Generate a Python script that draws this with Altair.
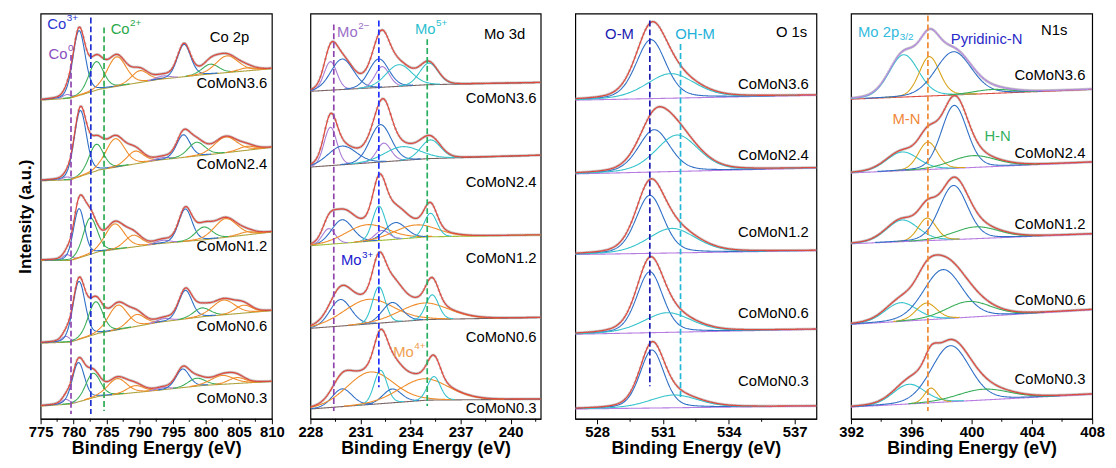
import numpy as np
import pandas as pd
import altair as alt

# ------------------------------------------------------------------ data
SAMPLES = ["CoMoN3.6", "CoMoN2.4", "CoMoN1.2", "CoMoN0.6", "CoMoN0.3"]

# Co 2p : background knots and fitted peak parameters (centre eV, height a.u., FWHM eV)
CO_BG_X = [775, 779.5, 783.8, 792.7, 799.7, 810]
CO_BG_Y = [[324, 326, 335, 345, 350, 356],
           [242, 243, 253, 263, 268, 276],
           [161, 161, 170, 178, 182, 190],
           [77, 78, 87, 98, 104, 110],
           [13, 15, 23, 29, 34, 38]]
CO_COMPONENTS = ["purple", "blue", "green", "orange", "orange", "purple", "blue", "green", "orange", "orange"]
CO_CENTER = [[779.0, 780.8, 783.4, 786.5, 790.0, 793.5, 796.7, 800.7, 803.2, 806.2],
             [779.0, 781.0, 783.4, 786.3, 789.3, 793.5, 796.6, 798.6, 803.0, 806.2],
             [779.0, 780.8, 782.5, 786.2, 789.0, 793.5, 796.9, 799.7, 803.0, 806.2],
             [778.8, 780.8, 783.3, 786.7, 789.5, 793.7, 796.9, 799.4, 802.7, 805.7],
             [778.8, 780.7, 782.9, 786.6, 789.3, 793.5, 796.5, 798.6, 802.5, 804.7]]
CO_HEIGHT = [[4, 66, 29, 30, 12, 3, 33, 10, 17, 3],
             [3, 67, 27, 29, 13, 2, 23, 14, 16, 4],
             [6, 50, 37, 26, 12, 3, 33, 13, 19, 3],
             [6, 59, 33, 25, 12, 3, 29, 9, 15, 8],
             [5, 40, 25, 16, 7, 2, 19, 8, 9, 6]]
CO_FWHM = [[1.5, 2.2, 2.6, 3.4, 3.0, 2.5, 2.4, 3.0, 4.0, 3.0],
           [1.5, 2.2, 2.6, 3.4, 3.0, 2.5, 2.4, 3.0, 4.0, 3.0],
           [1.5, 2.0, 2.5, 3.4, 3.0, 2.5, 2.4, 3.0, 4.0, 3.0],
           [1.5, 2.2, 2.6, 3.4, 3.0, 2.5, 2.4, 3.0, 4.0, 3.0],
           [1.5, 2.2, 2.6, 3.4, 3.0, 2.5, 2.4, 3.0, 4.0, 3.0]]

# Mo 3d
MO_BG_X = [228, 235, 241.8]
MO_BG_Y = [[333, 339.7, 342],
           [256, 264.5, 268],
           [176, 185, 187],
           [92, 101, 103],
           [10, 19, 20]]
MO_COMPONENTS = ["purple", "blue", "orange", "cyan", "purple", "blue", "cyan", "orange", "cyan"]
MO_CENTER = [[229.2, 229.9, 231.5, 232.1, 232.3, 232.1, 233.3, 234.8, 235.1],
             [229.2, 229.9, 231.5, 232.1, 232.4, 232.2, 233.5, 234.8, 235.2],
             [229.1, 229.9, 231.4, 232.1, 232.3, 233.1, 233.5, 234.3, 235.2],
             [229.2, 229.8, 231.5, 232.1, 232.3, 232.9, 233.5, 234.8, 235.3],
             [229.2, 229.9, 231.6, 232.2, 232.3, 232.9, 233.5, 234.8, 235.4]]
MO_HEIGHT = [[29, 31, 0, 0, 21, 29, 22, 0, 22],
             [39, 19, 0, 0, 19, 38, 14, 0, 19],
             [16, 24, 17, 35, 10, 17, 0, 13, 24],
             [0, 27, 25, 37, 0, 20, 0, 17, 25],
             [0, 18, 33, 34, 0, 14, 0, 22, 24]]
MO_FWHM = [[0.9, 1.6, 3.0, 0.9, 1.0, 1.4, 1.8, 3.5, 1.3],
           [0.9, 2.0, 3.0, 0.9, 1.0, 1.5, 2.5, 3.5, 1.4],
           [0.9, 1.5, 3.0, 0.9, 1.0, 1.5, 2.0, 3.0, 0.9],
           [0.9, 1.5, 3.5, 0.9, 1.0, 1.4, 2.0, 3.5, 0.9],
           [0.9, 1.4, 3.3, 0.9, 1.0, 1.3, 2.0, 3.5, 0.9]]

# O 1s
O_BG_X = [527, 538]
O_BG_Y = [[324, 329], [249, 255], [167, 171], [86, 91], [10, 13]]
O_COMPONENTS = ["blue", "cyan"]
O_CENTER = [[530.45, 531.35], [530.6, 531.65], [530.4, 531.4], [530.4, 531.2], [530.5, 531.5]]
O_HEIGHT = [[60, 25], [43, 37], [59, 25], [62, 20], [59, 13]]
O_FWHM = [[1.6, 2.6], [1.7, 2.3], [1.5, 2.6], [1.4, 2.6], [1.3, 2.6]]

# N 1s
N_BG_X = [392, 408]
N_BG_Y = [[325, 335], [250, 261], [178, 188], [96, 111], [12, 25]]
N_COMPONENTS = ["cyan", "gold", "blue", "green"]
N_CENTER = [[395.5, 397.2, 398.8, 401.4],
            [395.4, 397.1, 398.85, 400.1],
            [395.4, 397.05, 398.8, 400.3],
            [395.3, 397.0, 398.1, 399.8],
            [395.85, 397.3, 398.6, 400.8]]
N_HEIGHT = [[43, 40, 44, 4], [19, 28, 64, 12], [22, 23, 55, 12], [19, 17, 50, 16], [20, 15, 57, 11]]
N_FWHM = [[2.3, 1.6, 2.8, 3.0], [2.5, 1.5, 2.0, 3.5], [2.5, 1.4, 2.2, 3.5], [2.5, 1.6, 3.0, 3.5], [2.5, 1.0, 3.0, 4.0]]

# ------------------------------------------------------------------ styles
PAL = {"blue": "#2f6fc6", "green": "#3aae5a", "orange": "#f08c2a", "purple": "#a97cd6",
       "cyan": "#35c3cc", "gold": "#d9a21b", "red": "#dc4b40", "olive": "#b0a23c",
       "grey": "#7a6464", "lilac": "#b58ae0", "bgpurple": "#b77be2", "lime": "#a2bf3a"}
FONT = "Liberation Sans"
H_PX = 410       # plot height in pixels
Y_TOP = 412      # intensity value at the top of each panel
CHAR_W = {"C": 0.722, "o": 0.556, "M": 0.833, " ": 0.278, "2": 0.556, "p": 0.556}


def text_w(s, size):
    return sum(CHAR_W.get(ch, 0.556) for ch in s) * size


def pv(x, c, h, w, eta):
    d = (x - c) / w
    return h * ((1 - eta) * np.exp(-4 * np.log(2) * d * d) + eta / (1 + 4 * d * d))


def build(dom, step, bg_x, bg_y, comps, centers, heights, fwhms, eta, env_cols, bg_cols):
    lines, env, dots = [], [], []
    x = np.round(np.arange(dom[0], dom[1] + step / 2, step), 3)
    for si, s in enumerate(SAMPLES):
        bg = np.interp(x, bg_x, bg_y[si])
        total = bg.copy()
        for xv, yv in zip(x, bg):
            lines.append({"x": xv, "y": round(yv, 2), "id": f"{s}-bg", "c": bg_cols[si]})
        for k, col in enumerate(comps):
            h = heights[si][k]
            if h <= 0:
                continue
            p = pv(x, centers[si][k], h, fwhms[si][k], eta)
            total = total + p
            m = p > 0.35
            for xv, yv in zip(x[m], (bg + p)[m]):
                lines.append({"x": xv, "y": round(yv, 2), "id": f"{s}-{k}", "c": PAL[col]})
        for xv, yv in zip(x, total):
            env.append({"x": xv, "y": round(yv, 2), "id": f"{s}-env", "c": env_cols[si]})
        for xv, yv in zip(x[::2], total[::2]):
            dots.append({"x": xv, "y": round(yv, 2)})
    return pd.DataFrame(lines), pd.DataFrame(env), pd.DataFrame(dots)


def panel(dom, width, majors, minors, frames, notes, sample_x, sample_y, dashes, first=False):
    lines, env, dots = frames
    ppe = width / (dom[1] - dom[0])
    xsc = alt.Scale(domain=dom, nice=False, zero=False)
    xax = alt.Axis(values=majors, format="d", title="Binding Energy (eV)", grid=False,
                   labelFontSize=15, labelFontWeight="bold", labelFont=FONT, labelColor="black",
                   titleFontSize=18, titleFontWeight="bold", titleFont=FONT, titleColor="black",
                   tickSize=5, tickColor="black", domainColor="black", labelPadding=1,
                   titlePadding=0, labelFlush=False, labelOverlap=False, labelBound=False)
    X = alt.X("x:Q", scale=xsc, axis=xax)
    ysc = alt.Scale(domain=[0, Y_TOP], nice=False, zero=False)
    if first:
        yax = alt.Axis(title="Intensity (a.u.)", labels=False, ticks=False, domain=False, grid=False,
                       titleFontSize=17, titleFontWeight="bold", titleFont=FONT, titleColor="black",
                       titlePadding=6)
        Y = alt.Y("y:Q", scale=ysc, axis=yax)
    else:
        Y = alt.Y("y:Q", scale=ysc, axis=None)

    l_dots = alt.Chart(dots).mark_point(filled=False, size=5, strokeWidth=0.6, color="#9a9a9a",
                                        opacity=0.85, clip=True).encode(x=X, y=Y)
    l_lines = alt.Chart(lines).mark_line(strokeWidth=1.1, clip=True).encode(
        x=X, y=Y, detail="id:N", color=alt.Color("c:N", scale=None))
    l_env = alt.Chart(env).mark_line(strokeWidth=1.3, clip=True).encode(
        x=X, y=Y, detail="id:N", color=alt.Color("c:N", scale=None))
    ddf = pd.DataFrame(dashes, columns=["x", "y", "y2", "c"])
    l_dash = alt.Chart(ddf).mark_rule(strokeDash=[6, 3], strokeWidth=1.7).encode(
        x=X, y=Y, y2="y2:Q", color=alt.Color("c:N", scale=None))

    base_rows, sup_rows, sub_rows = [], [], []
    for base, sup, kind, x, y, c in notes:
        base_rows.append({"t": base, "x": x, "y": y, "c": c})
        if sup:
            row = {"t": sup, "x": x + (text_w(base, 15) + 0.5) / ppe, "y": y, "c": c}
            (sup_rows if kind == "sup" else sub_rows).append(row)
    l_notes = alt.Chart(pd.DataFrame(base_rows)).mark_text(
        align="left", baseline="middle", fontSize=15, font=FONT).encode(
        x=X, y=Y, text="t:N", color=alt.Color("c:N", scale=None))
    sdf = pd.DataFrame({"t": SAMPLES, "x": [sample_x] * 5, "y": sample_y})
    l_samples = alt.Chart(sdf).mark_text(align="right", baseline="middle", fontSize=15, font=FONT,
                                         color="black").encode(x=X, y=Y, text="t:N")
    mdf = pd.DataFrame({"x": minors})
    l_minor = alt.Chart(mdf).mark_rule(color="black", strokeWidth=1).encode(
        x=X, y=alt.value(H_PX), y2=alt.value(H_PX + 3))
    layers = [l_dots, l_lines, l_env, l_dash, l_notes, l_samples, l_minor]
    if sup_rows:
        layers.append(alt.Chart(pd.DataFrame(sup_rows)).mark_text(
            align="left", baseline="middle", fontSize=10, font=FONT, dy=-6).encode(
            x=X, y=Y, text="t:N", color=alt.Color("c:N", scale=None)))
    if sub_rows:
        layers.append(alt.Chart(pd.DataFrame(sub_rows)).mark_text(
            align="left", baseline="middle", fontSize=10, font=FONT, dy=5).encode(
            x=X, y=Y, text="t:N", color=alt.Color("c:N", scale=None)))
    return alt.layer(*layers).properties(width=width, height=H_PX)


co = build((775, 810), 0.12, CO_BG_X, CO_BG_Y, CO_COMPONENTS, CO_CENTER, CO_HEIGHT, CO_FWHM, 0.2,
           [PAL["red"]] * 5, [PAL["olive"]] * 5)
mo = build((228, 241.8), 0.05, MO_BG_X, MO_BG_Y, MO_COMPONENTS, MO_CENTER, MO_HEIGHT, MO_FWHM, 0.1,
           [PAL["red"]] * 5, [PAL["grey"], PAL["grey"], PAL["lime"], PAL["grey"], PAL["grey"]])
ox = build((527, 538), 0.04, O_BG_X, O_BG_Y, O_COMPONENTS, O_CENTER, O_HEIGHT, O_FWHM, 0.3,
           [PAL["red"]] * 5, [PAL["bgpurple"]] * 5)
nn = build((392, 408), 0.05, N_BG_X, N_BG_Y, N_COMPONENTS, N_CENTER, N_HEIGHT, N_FWHM, 0.15,
           [PAL["lilac"]] + [PAL["red"]] * 4, [PAL["red"]] + [PAL["bgpurple"]] * 4)

p1 = panel((775, 810), 234, [775, 780, 785, 790, 795, 800, 805, 810],
           [777.5, 782.5, 787.5, 792.5, 797.5, 802.5, 807.5], co,
           [("Co", "3+", "sup", 776.0, 401, "#2a35d0"), ("Co", "0", "sup", 776.2, 371, "#8a4fc0"),
            ("Co", "2+", "sup", 785.6, 396, "#2aa84a"), ("Co 2p", "", "", 800.6, 388, "black")],
           809.3, [341, 259, 176, 94, 21],
           [(779.6, 370, 5, "#8e44ad"), (782.6, 408, 5, "#1f2fd0"), (784.6, 398, 8, "#2eaa50")],
           first=True)
p2 = panel((228, 241.8), 233, [228, 231, 234, 237, 240], [229.5, 232.5, 235.5, 238.5, 241.5], mo,
           [("Mo", "2−", "sup", 229.6, 393, "#9b6fc8"), ("Mo", "5+", "sup", 234.26, 396, "#2cc0d0"),
            ("Mo 3d", "", "", 238.4, 391, "black"), ("Mo", "3+", "sup", 229.83, 161, "#2020d0"),
            ("Mo", "4+", "sup", 232.96, 68, "#f0a050")],
           241.55, [326, 241, 163, 83, 11],
           [(229.4, 401, 8, "#8e44ad"), (232.1, 405, 32, "#1f2fff"), (235.0, 386, 13, "#27ae60")])
p3 = panel((527, 538), 244, [528, 531, 534, 537], [529.5, 532.5, 535.5], ox,
           [("O-M", "", "", 528.36, 391, "#2020b0"), ("OH-M", "", "", 531.56, 391, "#22b0d8"),
            ("O 1s", "", "", 536.15, 393, "black")],
           537.65, [340, 268, 190, 108, 38],
           [(530.4, 405, 33, "#1a1ab0"), (531.8, 381, 21, "#22b5d5")])
p4 = panel((392, 408), 244, [392, 396, 400, 404, 408], [394, 398, 402, 406], nn,
           [("Mo 2p", "3/2", "sub", 392.46, 393, "#33bbdd"), ("Pyridinic-N", "", "", 398.62, 386, "#2a2ac8"),
            ("N1s", "", "", 404.6, 395, "black"), ("M-N", "", "", 394.75, 305, "#f0883a"),
            ("H-N", "", "", 400.85, 288, "#33b060")],
           407.55, [350, 270, 198, 121, 40],
           [(397.1, 410, 8, "#f08a30")])

left = alt.hconcat(p1, p2, spacing=11)
right = alt.hconcat(p3, p4, spacing=20)
chart = alt.hconcat(left, right, spacing=33).properties(
    padding={"left": 8, "top": 2, "right": 2, "bottom": 0}
).configure_view(stroke="black", strokeWidth=1.2).configure_axis(grid=False)

chart.save("out.html", embed_options={"renderer": "svg", "actions": False})
